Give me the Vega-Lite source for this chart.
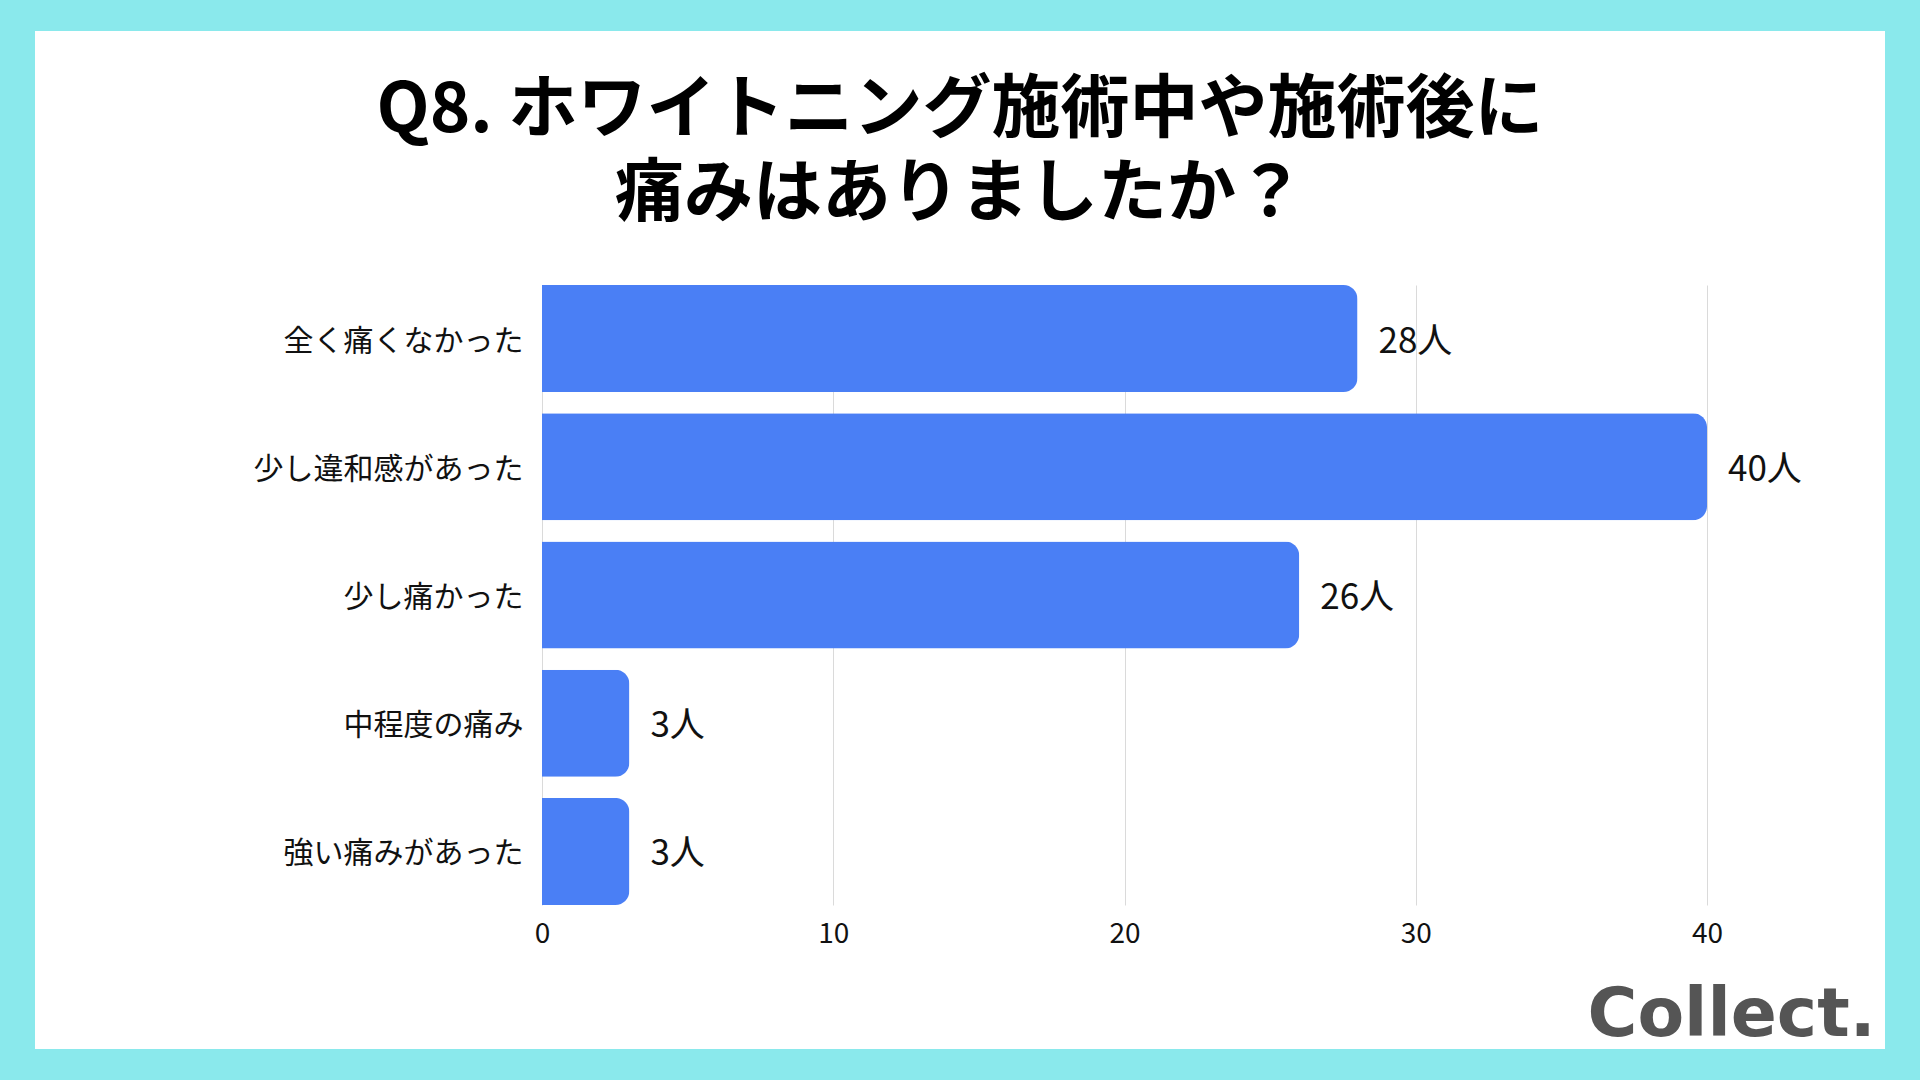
{
  "$schema": "https://vega.github.io/schema/vega-lite/v6.json",
  "width": 1850,
  "height": 1018,
  "autosize": {"type": "none"},
  "padding": {"left": 35, "top": 31, "right": 35, "bottom": 31},
  "background": "#8AE9EC",
  "config": {
    "view": {"fill": "#FFFFFF", "stroke": null},
    "font": "Noto Sans CJK JP"
  },
  "title": {
    "text": ["Q8. ホワイトニング施術中や施術後に", "痛みはありましたか？"],
    "font": "Noto Sans CJK JP",
    "fontWeight": "bold",
    "fontSize": 69,
    "lineHeight": 84,
    "color": "#000000",
    "anchor": "middle",
    "frame": "group",
    "baseline": "top",
    "dy": 203
  },
  "data": {
    "values": [
      {"answer": "全く痛くなかった", "n": 28},
      {"answer": "少し違和感があった", "n": 40},
      {"answer": "少し痛かった", "n": 26},
      {"answer": "中程度の痛み", "n": 3},
      {"answer": "強い痛みがあった", "n": 3}
    ]
  },
  "encoding": {
    "y": {
      "field": "answer",
      "type": "nominal",
      "sort": null,
      "scale": {"range": [254, 874], "paddingInner": 0.165, "paddingOuter": 0},
      "axis": {
        "title": null,
        "orient": "left",
        "offset": -507,
        "domain": false,
        "ticks": false,
        "grid": false,
        "labelPadding": 19,
        "labelOffset": 3,
        "labelFont": "Noto Sans CJK JP",
        "labelFontSize": 30,
        "labelColor": "#111111",
        "labelLimit": 600
      }
    },
    "x": {
      "field": "n",
      "type": "quantitative",
      "scale": {"domain": [0, 40], "range": [507, 1672], "nice": false, "zero": true},
      "axis": {
        "orient": "bottom",
        "offset": -144,
        "values": [0, 10, 20, 30, 40],
        "domain": false,
        "grid": false,
        "ticks": true,
        "tickSize": -620,
        "tickColor": "#DADADA",
        "tickWidth": 1,
        "labelPadding": 635,
        "labelFlush": false,
        "labelOverlap": false,
        "labelFont": "Noto Sans CJK JP",
        "labelFontSize": 28,
        "labelColor": "#111111",
        "title": "Collect.",
        "titleFont": "DejaVu Sans",
        "titleFontWeight": "bold",
        "titleFontSize": 68,
        "titleColor": "#555555",
        "titleAlign": "right",
        "titleAnchor": "end",
        "titleBaseline": "alphabetic",
        "titleX": 1840,
        "titleY": 130
      }
    }
  },
  "layer": [
    {
      "mark": {"type": "bar", "color": "#4A7FF5", "cornerRadiusEnd": 14}
    },
    {
      "mark": {
        "type": "text",
        "align": "left",
        "baseline": "middle",
        "dx": 21,
        "dy": 3,
        "fontSize": 35,
        "font": "Noto Sans CJK JP",
        "color": "#111111",
        "text": {"expr": "datum.n + '人'"}
      }
    }
  ]
}
